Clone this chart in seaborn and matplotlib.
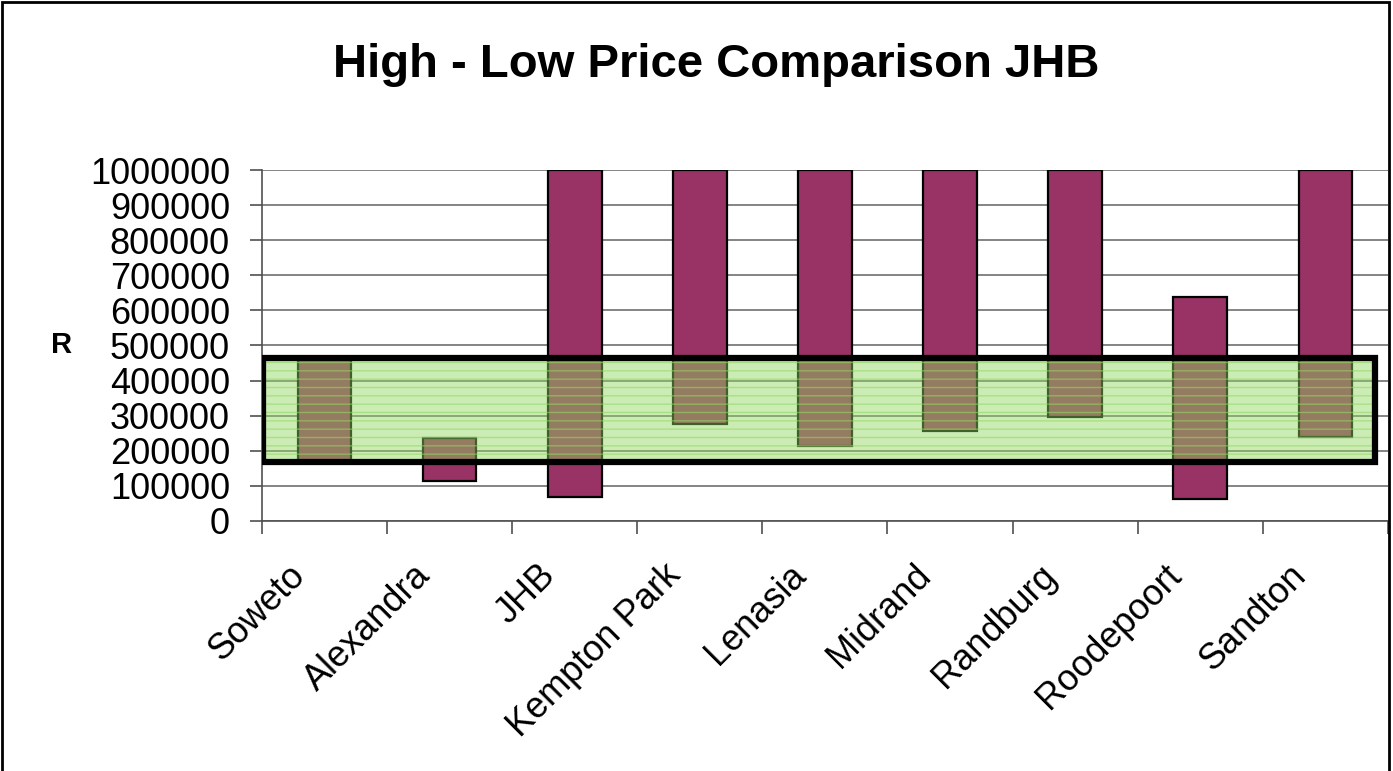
import matplotlib
matplotlib.use("Agg")
import matplotlib.pyplot as plt
from matplotlib.patches import Rectangle
from matplotlib.transforms import ScaledTranslation
import seaborn as sns
import numpy as np

categories = ["Soweto", "Alexandra", "JHB", "Kempton Park", "Lenasia",
              "Midrand", "Randburg", "Roodepoort", "Sandton"]
low_price = [165000, 114000, 68000, 276000, 214000, 256000, 296000, 62000, 238000]
high_price = [464000, 236000, 1000000, 1000000, 1000000, 1000000, 1000000, 638000, 1000000]
band_low = 167000
band_high = 465000
y_ticks = [0, 100000, 200000, 300000, 400000, 500000, 600000, 700000, 800000, 900000, 1000000]

sns.set_theme(style="white")
plt.rcParams['font.family'] = ['Liberation Sans', 'DejaVu Sans']
plt.rcParams['text.color'] = 'black'
plt.rcParams['axes.labelcolor'] = 'black'
plt.rcParams['xtick.color'] = '#505050'
plt.rcParams['ytick.color'] = '#505050'
plt.rcParams['xtick.labelcolor'] = 'black'
plt.rcParams['ytick.labelcolor'] = 'black'
plt.rcParams['hatch.color'] = (0.62, 0.86, 0.42)

fig = plt.figure(figsize=(13.93, 7.71), dpi=100)
ax = fig.add_axes([0.188, 0.3243, 0.8084, 0.4552])

heights = [h - l for h, l in zip(high_price, low_price)]
sns.barplot(x=categories, y=heights, bottom=low_price, ax=ax, color="#993366",
            saturation=1, width=0.43, edgecolor="black", linewidth=1.6, zorder=3)

ax.set_ylim(0, 1000000)
ax.set_xlim(-0.5, len(categories) - 0.5)
ax.set_yticks(y_ticks)
ax.set_yticklabels([str(v) for v in y_ticks], fontsize=26, color="black")
ax.yaxis.grid(True, color="#707070", linewidth=1.2, zorder=0)
ax.set_axisbelow(True)

ax.set_xticks(np.arange(len(categories)))
ax.set_xticklabels(categories, rotation=45, ha="right", rotation_mode="anchor",
                   fontsize=26, color="black")
ax.tick_params(axis="x", length=0, pad=10)
offset = ScaledTranslation(-37 / 100, -23 / 100, fig.dpi_scale_trans)
for lbl in ax.get_xticklabels():
    lbl.set_transform(lbl.get_transform() + offset)
ax.set_xticks(np.arange(len(categories) + 1) - 0.5, minor=True)
ax.tick_params(axis="x", which="minor", length=9, width=1.2, color="#505050",
               direction="out", bottom=True)
ax.tick_params(axis="y", length=9, width=1.2, color="#505050", direction="out",
               left=True, pad=14)

for s in ["top", "right"]:
    ax.spines[s].set_visible(False)
for s in ["left", "bottom"]:
    ax.spines[s].set_color("#505050")
    ax.spines[s].set_linewidth(1.2)

ax.set_xlabel("")
ax.set_ylabel("")
ax.text(-0.1775, 0.5, "R", transform=ax.transAxes, fontsize=21, fontweight="bold",
        ha="center", va="center", color="black")

# highlighted band
band = Rectangle((-0.49, band_low), 8.89, band_high - band_low,
                 facecolor=(0.55, 0.84, 0.36, 0.45), edgecolor="black",
                 linewidth=4.5, zorder=5)
ax.add_patch(band)
band_h = Rectangle((-0.49, band_low), 8.89, band_high - band_low,
                   facecolor="none", edgecolor=(0.6, 0.85, 0.4, 0.6),
                   hatch="--", linewidth=0, zorder=4)
ax.add_patch(band_h)

fig.text(0.514, 1 - 77 / 771, "High - Low Price Comparison JHB", fontsize=34,
         fontweight="bold", ha="center", va="baseline", color="black")

# figure border
fig.patches.append(Rectangle((0.0015, -0.01), 0.9955, 1.0075, transform=fig.transFigure,
                             fill=False, edgecolor="black", linewidth=2))

fig.savefig("out.png", dpi=100)
